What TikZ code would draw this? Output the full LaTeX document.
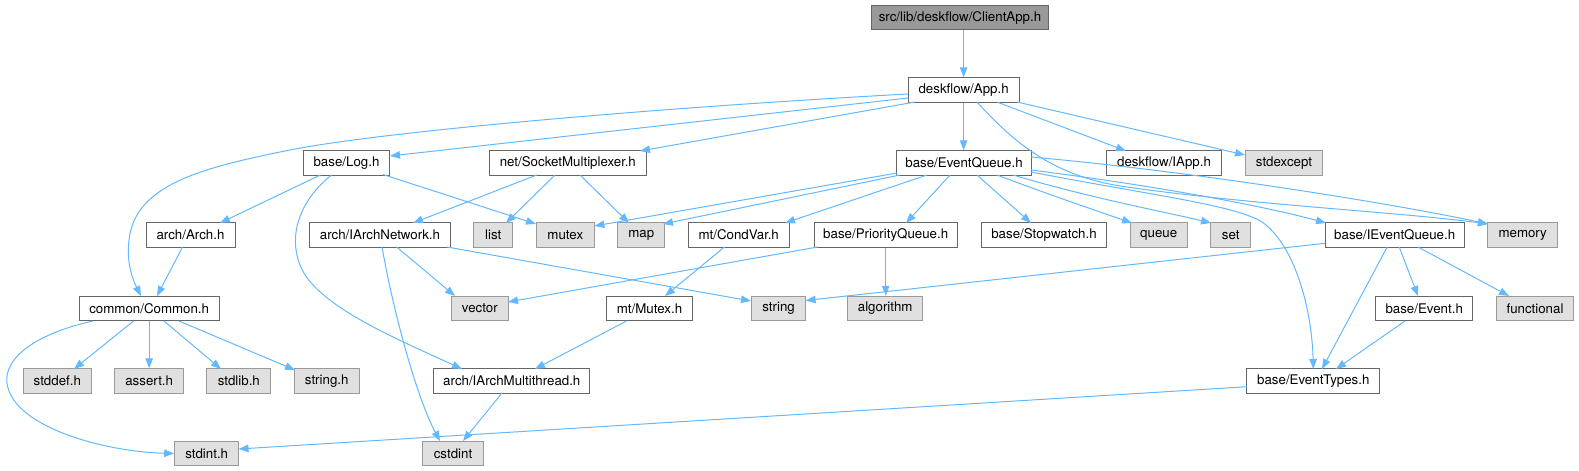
\documentclass[tikz,border=0pt]{standalone}
\usepackage{fontspec}
\setmainfont{TeX Gyre Heros}
\usetikzlibrary{arrows.meta}
\definecolor{edgec}{HTML}{63B8FF}
\definecolor{bordc}{HTML}{666666}
\definecolor{extb}{HTML}{999999}
\definecolor{extf}{HTML}{E0E0E0}
\definecolor{rootf}{HTML}{999999}
\newcommand\fsz{\fontsize{13.3}{15}\selectfont}
\tikzset{
  box/.style={draw=bordc, fill=white, line width=1pt, minimum height=24.5pt, inner sep=0pt, font=\fsz},
  ext/.style={box, draw=extb, fill=extf},
  rootbox/.style={box, fill=rootf},
  edge/.style={draw=edgec, line width=1pt, -{Triangle[length=10pt,width=7.5pt]}},
}
\begin{document}
\begin{tikzpicture}[x=1pt,y=-1pt]
\useasboundingbox (0,0) rectangle (1579,471);
% nodes
\node[rootbox, minimum width=177pt] (root) at (960,17.5) {src/lib/deskflow/ClientApp.h};
\node[box, minimum width=111pt] (app) at (963.6,90) {deskflow/App.h};
\node[box, minimum width=86pt] (log) at (346.5,163) {base/Log.h};
\node[box, minimum width=157pt] (sm) at (567.8,163) {net/SocketMultiplexer.h};
\node[box, minimum width=135.5pt] (eq) at (964,163) {base/EventQueue.h};
\node[box, minimum width=115pt] (iapp) at (1164,163) {deskflow/IApp.h};
\node[ext, minimum width=77pt] (stdexcept) at (1284,163) {stdexcept};
\node[box, minimum width=89pt] (arch) at (190.5,235) {arch/Arch.h};
\node[box, minimum width=141.6pt] (ian) at (380,235) {arch/IArchNetwork.h};
\node[ext, minimum width=39pt] (list) at (493.3,235) {list};
\node[ext, minimum width=58pt] (mutex) at (565.3,235) {mutex};
\node[ext, minimum width=46.7pt] (map) at (641.3,235) {map};
\node[box, minimum width=101pt] (condvar) at (738.7,235) {mt/CondVar.h};
\node[box, minimum width=143pt] (pq) at (885.7,235) {base/PriorityQueue.h};
\node[box, minimum width=125pt] (sw) at (1044,235) {base/Stopwatch.h};
\node[ext, minimum width=57pt] (queue) at (1158.7,235) {queue};
\node[ext, minimum width=40pt] (set) at (1230.7,235) {set};
\node[box, minimum width=139pt] (ieq) at (1394.7,235) {base/IEventQueue.h};
\node[ext, minimum width=70pt] (memory) at (1522.7,235) {memory};
\node[box, minimum width=139.6pt] (common) at (149.2,308.5) {common/Common.h};
\node[ext, minimum width=56.4pt] (vector) at (479.8,308.5) {vector};
\node[box, minimum width=86.5pt] (mtx) at (649.5,308.5) {mt/Mutex.h};
\node[ext, minimum width=54pt] (string) at (778.6,308.5) {string};
\node[ext, minimum width=74.7pt] (algorithm) at (885.2,308.5) {algorithm};
\node[box, minimum width=96.6pt] (event) at (1424.2,308.5) {base/Event.h};
\node[ext, minimum width=77.7pt] (functional) at (1535,308.5) {functional};
\node[ext, minimum width=68pt] (stddef) at (57.3,381) {stddef.h};
\node[ext, minimum width=68.6pt] (assert) at (149.2,381) {assert.h};
\node[ext, minimum width=64pt] (stdlib) at (238.8,381) {stdlib.h};
\node[ext, minimum width=64.6pt] (stringh) at (326.7,381) {string.h};
\node[box, minimum width=156.3pt] (iamt) at (511.8,381) {arch/IArchMultithread.h};
\node[box, minimum width=132.7pt] (et) at (1313.3,381) {base/EventTypes.h};
\node[ext, minimum width=64pt] (stdint) at (206.7,453.5) {stdint.h};
\node[ext, minimum width=61pt] (cstdint) at (453,453.5) {cstdint};
% edges
\draw[edge] (app.north |- root.south) -- (app.north);
\draw[edge] ([shift={(-55.6,4)}]app.center) .. controls (650,108) and (380,132) .. (290,150) .. controls (200,168) and (135,185) .. (129,240) .. controls (126,265) and (134,282) .. ([shift={(-8.2,-12.5)}]common.center);
\draw[edge] ([shift={(-55.6,8)}]app.center) -- ([shift={(43.5,-7)}]log.center);
\draw[edge] ([shift={(-48.6,12)}]app.center) -- ([shift={(72.2,-12)}]sm.center);
\draw[edge] (app.south) -- (app.south |- eq.north);
\draw[edge] ([shift={(33.4,12)}]app.center) -- ([shift={(-38,-12)}]iapp.center);
\draw[edge] ([shift={(53.4,12)}]app.center) -- ([shift={(-39,-8)}]stdexcept.center);
\draw[edge] ([shift={(13.4,12)}]app.center) .. controls (1020,150) and (1060,176) .. (1120,186) .. controls (1250,205) and (1400,212) .. ([shift={(-34.7,-11)}]memory.center);
% Log
\draw[edge] ([shift={(-26.1,12)}]log.center) -- ([shift={(29.5,-12)}]arch.center);
\draw[edge] ([shift={(36.5,11.5)}]log.center) -- ([shift={(-29.3,-11)}]mutex.center);
\draw[edge] ([shift={(-15,12)}]log.center) .. controls (300,200) and (288,235) .. (300,265) .. controls (315,305) and (395,338) .. ([shift={(-49.8,-12)}]iamt.center);
% SocketMultiplexer
\draw[edge] ([shift={(-31.1,12)}]sm.center) -- ([shift={(33,-12)}]ian.center);
\draw[edge] ([shift={(-12.8,12)}]sm.center) -- ([shift={(12.7,-12)}]list.center);
\draw[edge] ([shift={(12.2,12)}]sm.center) -- ([shift={(-12.3,-12)}]map.center);
% EventQueue
\draw[edge] ([shift={(-67,10)}]eq.center) -- ([shift={(29.1,-9)}]mutex.center);
\draw[edge] ([shift={(-64,12)}]eq.center) -- ([shift={(21.7,-11)}]map.center);
\draw[edge] ([shift={(-37,12)}]eq.center) -- ([shift={(46.3,-12)}]condvar.center);
\draw[edge] ([shift={(-14,12)}]eq.center) -- ([shift={(20.3,-12)}]pq.center);
\draw[edge] ([shift={(13,12)}]eq.center) -- ([shift={(-13,-12)}]sw.center);
\draw[edge] ([shift={(33,12)}]eq.center) .. controls (1050,195) and (1100,212) .. ([shift={(-26.7,-12)}]queue.center);
\draw[edge] ([shift={(49,12)}]eq.center) .. controls (1090,198) and (1170,213) .. ([shift={(-19.7,-12)}]set.center);
\draw[edge] ([shift={(67,7)}]eq.center) .. controls (1150,185) and (1260,205) .. ([shift={(-68.7,-12)}]ieq.center);
\draw[edge] ([shift={(67,-6)}]eq.center) .. controls (1200,172) and (1400,205) .. ([shift={(-34.7,-11)}]memory.center);
\draw[edge] ([shift={(67,9)}]eq.center) .. controls (1150,195) and (1235,205) .. (1262,222) .. controls (1295,245) and (1312,310) .. ([shift={(0,-12)}]et.center);
% IArchNetwork
\draw[edge] ([shift={(16.7,12)}]ian.center) -- ([shift={(-24.8,-12.5)}]vector.center);
\draw[edge] ([shift={(2,12)}]ian.center) .. controls (395,320) and (418,400) .. ([shift={(-13,-12.5)}]cstdint.center);
\draw[edge] ([shift={(67,12)}]ian.center) -- ([shift={(-27.6,-7.5)}]string.center);
% PriorityQueue
\draw[edge] ([shift={(-68.2,12)}]pq.center) -- ([shift={(28.2,-6.5)}]vector.center);
\draw[edge] (pq.south) -- (pq.south |- algorithm.north);
% CondVar, Mutex, IArchMultithread
\draw[edge] ([shift={(-14.2,12)}]condvar.center) -- ([shift={(15.5,-12.5)}]mtx.center);
\draw[edge] ([shift={(-23,12.5)}]mtx.center) -- ([shift={(23.2,-12)}]iamt.center);
\draw[edge] ([shift={(-9.8,12)}]iamt.center) -- ([shift={(10,-12.5)}]cstdint.center);
% Arch, Common
\draw[edge] ([shift={(-8,12)}]arch.center) -- ([shift={(7.8,-12.5)}]common.center);
\draw[edge] ([shift={(-15.7,12.5)}]common.center) -- ([shift={(16.7,-12)}]stddef.center);
\draw[edge] (common.south) -- (common.south |- assert.north);
\draw[edge] ([shift={(14.8,12.5)}]common.center) -- ([shift={(-17.8,-12)}]stdlib.center);
\draw[edge] ([shift={(29.8,12.5)}]common.center) -- ([shift={(-31.7,-11)}]stringh.center);
\draw[edge] ([shift={(-56.2,12.5)}]common.center) .. controls (30,335) and (0,362) .. (8,388) .. controls (20,430) and (110,452) .. (stdint.west);
% EventTypes
\draw[edge] ([shift={(-66.3,5.7)}]et.center) -- ([shift={(31.9,-4.5)}]stdint.center);
% IEventQueue
\draw[edge] ([shift={(-69.7,8.3)}]ieq.center) -- ([shift={(27,-8)}]string.center);
\draw[edge] ([shift={(-7.5,12)}]ieq.center) -- ([shift={(8.7,-12)}]et.center);
\draw[edge] ([shift={(4.5,12)}]ieq.center) -- ([shift={(-6.2,-12.5)}]event.center);
\draw[edge] ([shift={(23.3,12)}]ieq.center) -- ([shift={(-26,-12.5)}]functional.center);
% Event
\draw[edge] ([shift={(-19.2,12.5)}]event.center) -- ([shift={(22.7,-12)}]et.center);
\end{tikzpicture}
\end{document}
